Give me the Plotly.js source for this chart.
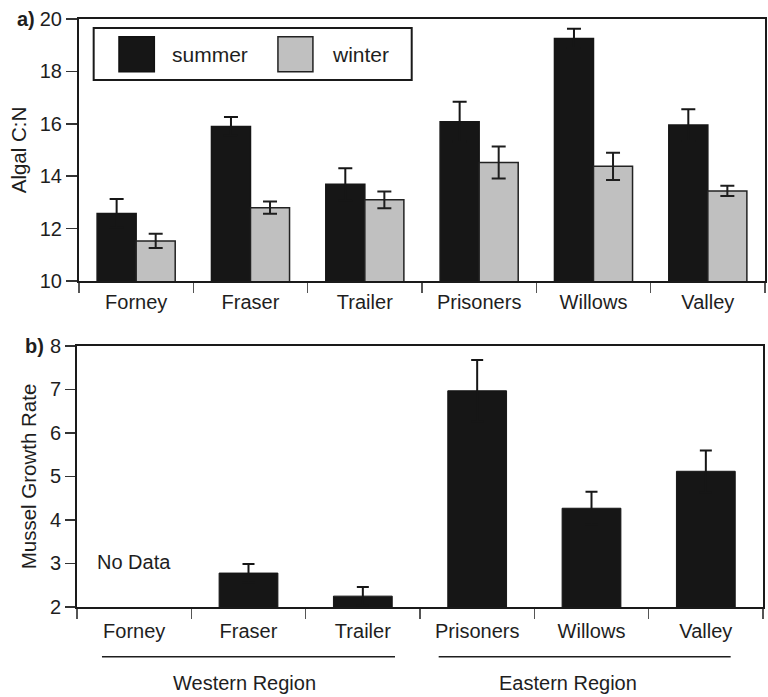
<!DOCTYPE html>
<html>
<head>
<meta charset="utf-8">
<script src="https://cdn.plot.ly/plotly-3.0.1.min.js"></script>
<style>html,body{margin:0;padding:0;background:#fff;}#chart{width:768px;height:697px;}</style>
</head>
<body>
<div id="chart"></div>
<script>
// ---- data ----
var sites = ['Forney', 'Fraser', 'Trailer', 'Prisoners', 'Willows', 'Valley'];
var summerCN = [12.58, 15.90, 13.69, 16.08, 19.26, 15.95];
var summerErr = [0.55, 0.36, 0.61, 0.76, 0.37, 0.61];
var winterCN = [11.53, 12.80, 13.10, 14.52, 14.38, 13.44];
var winterErr = [0.27, 0.23, 0.32, 0.61, 0.52, 0.20];
var growth = [null, 2.78, 2.25, 6.97, 4.27, 5.12];
var growthErr = [null, 0.21, 0.21, 0.71, 0.38, 0.48];
var cnTicks = [10, 12, 14, 16, 18, 20];
var growthTicks = [2, 3, 4, 5, 6, 7, 8];
var regions = ['Western Region', 'Eastern Region'];

var FONT = 'Liberation Sans, Arial, Helvetica, sans-serif';
var TXT = '#1e1e1e';
var BLACK = '#161616';
var GREY = '#c0c0c0';

var traces = [
  {type: 'bar', name: 'summer', x: sites, y: summerCN, xaxis: 'x', yaxis: 'y',
   marker: {color: BLACK, line: {color: BLACK, width: 1.5}},
   error_y: {type: 'data', array: summerErr, visible: true, color: BLACK, thickness: 2, width: 7},
   showlegend: false},
  {type: 'bar', name: 'winter', x: sites, y: winterCN, xaxis: 'x', yaxis: 'y',
   marker: {color: GREY, line: {color: '#222', width: 1.5}},
   error_y: {type: 'data', array: winterErr, visible: true, color: '#1e1e1e', thickness: 2, width: 7},
   showlegend: false},
  {type: 'bar', name: 'growth', x: sites, y: growth, xaxis: 'x2', yaxis: 'y2', width: 0.514,
   marker: {color: BLACK, line: {color: BLACK, width: 1}},
   error_y: {type: 'data', array: growthErr, visible: true, color: BLACK, thickness: 2, width: 6},
   showlegend: false}
];

var axCommon = {
  showgrid: false, zeroline: false, showline: true, mirror: true,
  linecolor: '#1a1a1a', linewidth: 2, ticks: 'outside',
  tickfont: {family: FONT, size: 20, color: TXT}
};

var layout = {
  width: 768, height: 697,
  margin: {l: 77, r: 3, t: 19, b: 90},
  paper_bgcolor: '#fff', plot_bgcolor: '#fff',
  barmode: 'group', bargap: 0.317, bargroupgap: 0,
  showlegend: false,
  font: {family: FONT, color: TXT, size: 20},
  xaxis: Object.assign({}, axCommon, {
    domain: [0.0029, 1], anchor: 'y', type: 'category', tickson: 'boundaries',
    ticklen: 10, tickwidth: 1.5, tickcolor: '#555', ticklabelstandoff: 2
  }),
  yaxis: Object.assign({}, axCommon, {
    domain: [0.5544, 1], anchor: 'x', range: [10, 20], tickvals: cnTicks,
    ticklen: 11, tickwidth: 1.5, tickcolor: '#333',
    title: {text: 'Algal C:N', font: {family: FONT, size: 20.5, color: TXT}, standoff: 8}
  }),
  xaxis2: Object.assign({}, axCommon, {
    domain: [0, 0.9971], anchor: 'y2', type: 'category', tickson: 'boundaries',
    ticklen: 10, tickwidth: 1.5, tickcolor: '#555', ticklabelstandoff: 5
  }),
  yaxis2: Object.assign({}, axCommon, {
    domain: [0, 0.4439], anchor: 'x2', range: [2, 8], tickvals: growthTicks,
    ticklen: 10, tickwidth: 1.5, tickcolor: '#333',
    title: {text: 'Mussel Growth Rate', font: {family: FONT, size: 20.5, color: TXT}, standoff: 8}
  }),
  shapes: [
    // legend box (panel a)
    {type: 'rect', xref: 'x domain', yref: 'y domain', x0: 0.0214, x1: 0.485, y0: 0.767, y1: 0.966,
     line: {color: '#1a1a1a', width: 2}, fillcolor: '#fff', layer: 'above'},
    {type: 'rect', xref: 'x domain', yref: 'y domain', x0: 0.0583, x1: 0.1098, y0: 0.799, y1: 0.932,
     line: {color: '#111', width: 1.5}, fillcolor: BLACK, layer: 'above'},
    {type: 'rect', xref: 'x domain', yref: 'y domain', x0: 0.290, x1: 0.341, y0: 0.799, y1: 0.932,
     line: {color: '#222', width: 1.5}, fillcolor: GREY, layer: 'above'},
    // region lines (panel b)
    {type: 'line', xref: 'paper', yref: 'paper', x0: 0.0363, x1: 0.4622, y0: -0.0845, y1: -0.0845,
     line: {color: '#1e1e1e', width: 1.5}},
    {type: 'line', xref: 'paper', yref: 'paper', x0: 0.5257, x1: 0.9501, y0: -0.0845, y1: -0.0845,
     line: {color: '#1e1e1e', width: 1.5}}
  ],
  annotations: [
    {xref: 'x domain', yref: 'y domain', x: 0.1327, y: 0.866, xanchor: 'left', yanchor: 'middle',
     text: 'summer', showarrow: false, font: {family: FONT, size: 21, color: TXT}},
    {xref: 'x domain', yref: 'y domain', x: 0.366, y: 0.866, xanchor: 'left', yanchor: 'middle',
     text: 'winter', showarrow: false, font: {family: FONT, size: 21, color: TXT}},
    {xref: 'x2', yref: 'y2', x: 'Forney', y: 3.03, text: 'No Data', showarrow: false,
     font: {family: FONT, size: 20, color: TXT}},
    {xref: 'paper', yref: 'paper', x: 0.244, y: -0.129, text: regions[0], showarrow: false,
     xanchor: 'center', yanchor: 'middle', font: {family: FONT, size: 20, color: TXT}},
    {xref: 'paper', yref: 'paper', x: 0.714, y: -0.129, text: regions[1], showarrow: false,
     xanchor: 'center', yanchor: 'middle', font: {family: FONT, size: 20, color: TXT}},
    {xref: 'paper', yref: 'paper', x: -0.0743, y: 1, xanchor: 'center', yanchor: 'middle',
     text: '<b>a)</b>', showarrow: false, font: {family: FONT, size: 20, color: TXT}},
    {xref: 'paper', yref: 'paper', x: -0.0625, y: 0.4439, xanchor: 'center', yanchor: 'middle',
     text: '<b>b)</b>', showarrow: false, font: {family: FONT, size: 20, color: TXT}}
  ]
};

Plotly.newPlot('chart', traces, layout, {displayModeBar: false, staticPlot: true});
</script>
</body>
</html>
